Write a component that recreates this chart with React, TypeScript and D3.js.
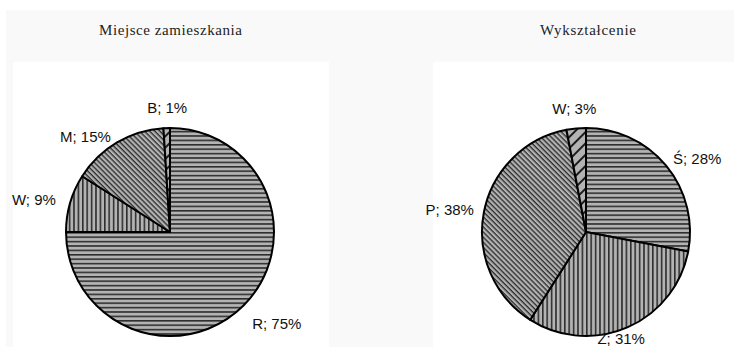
import React from "react";
import * as d3 from "d3";

// Miejsce zamieszkania
const placeNames = ["R", "W", "M", "B"];
const placeValues = [75, 9, 15, 1];
const placeHatch = ["horiz", "vert", "diag", "wide"];

// Wykształcenie
const eduNames = ["Ś", "Z", "P", "W"];
const eduValues = [28, 31, 38, 3];
const eduHatch = ["horiz", "vert", "diag", "wide"];

// hand-tuned label nudges (px), following the slice order above
const placeNudge: [number, number][] = [[9, -6], [-2, 6], [-16, 20], [1, -1]];
const eduNudge: [number, number][] = [[4, 15], [-17, -14], [3, 4], [0, 0]];

const W = 734;
const H = 347;
const R = 104;
const LABEL_FONT = "15px 'Liberation Sans', Arial, sans-serif";
const GRAY = "#b3b3b3";
const INK = "#1c1c1c";

let measureCtx: CanvasRenderingContext2D | null = null;
function textWidth(s: string) {
  if (!measureCtx) {
    measureCtx = document.createElement("canvas").getContext("2d");
  }
  if (!measureCtx) return s.length * 8;
  measureCtx.font = LABEL_FONT;
  return measureCtx.measureText(s).width;
}

function Patterns({ prefix }: { prefix: string }) {
  return (
    <>
      <pattern id={`${prefix}-horiz`} patternUnits="userSpaceOnUse" width={8} height={4.4}>
        <rect width={8} height={4.4} fill={GRAY} />
        <line x1={0} x2={8} y1={0.8} y2={0.8} stroke={INK} strokeWidth={1.4} />
      </pattern>
      <pattern id={`${prefix}-vert`} patternUnits="userSpaceOnUse" width={4.4} height={8}>
        <rect width={4.4} height={8} fill={GRAY} />
        <line y1={0} y2={8} x1={0.8} x2={0.8} stroke={INK} strokeWidth={1.4} />
      </pattern>
      <pattern id={`${prefix}-diag`} patternUnits="userSpaceOnUse" width={8} height={3.6} patternTransform="rotate(45)">
        <rect width={8} height={3.6} fill={GRAY} />
        <line x1={0} x2={8} y1={0.7} y2={0.7} stroke={INK} strokeWidth={1.2} />
      </pattern>
      <pattern id={`${prefix}-wide`} patternUnits="userSpaceOnUse" width={8} height={8} patternTransform="rotate(-45)">
        <rect width={8} height={8} fill={GRAY} />
        <line x1={0} x2={8} y1={1} y2={1} stroke={INK} strokeWidth={2} />
      </pattern>
    </>
  );
}

type PieProps = {
  cx: number;
  cy: number;
  names: string[];
  values: number[];
  hatch: string[];
  nudge: [number, number][];
  prefix: string;
};

function HatchedPie({ cx, cy, names, values, hatch, nudge, prefix }: PieProps) {
  const idx = d3.range(values.length);
  const pie = d3
    .pie<number>()
    .sort(null)
    .value((i) => values[i])
    .startAngle(0)
    .endAngle(2 * Math.PI);
  const arcs = pie(idx);
  const arc = d3.arc<d3.PieArcDatum<number>>().innerRadius(0).outerRadius(R);
  const total = d3.sum(values);
  const pct = d3.format(".0%");

  return (
    <g transform={`translate(${cx},${cy})`}>
      {arcs.map((a) => (
        <path
          key={names[a.data]}
          d={arc(a) || ""}
          fill={`url(#${prefix}-${hatch[a.data]})`}
          stroke="#000"
          strokeWidth={2}
          strokeLinejoin="round"
        />
      ))}
      {arcs.map((a) => {
        const i = a.data;
        const text = `${names[i]}; ${pct(values[i] / total)}`;
        const mid = (a.startAngle + a.endAngle) / 2;
        const sx = Math.sin(mid);
        const cyDir = -Math.cos(mid);
        const w = textWidth(text);
        const h = 11;
        const dist = R + 13 + Math.abs(sx) * (w / 2) + Math.abs(cyDir) * (h / 2);
        const x = sx * dist + nudge[i][0];
        const y = cyDir * dist + nudge[i][1];
        return (
          <text
            key={`l-${names[i]}`}
            x={x}
            y={y + h / 2}
            textAnchor="middle"
            style={{ font: LABEL_FONT }}
            fill="#111"
          >
            {text}
          </text>
        );
      })}
    </g>
  );
}

export default function App() {
  return (
    <svg
      width={W}
      height={H}
      style={{ position: "absolute", left: 0, top: 0, background: "#fff" }}
    >
      <defs>
        <Patterns prefix="pl" />
        <Patterns prefix="ed" />
      </defs>
      <rect x={6} y={10} width={W - 6} height={H - 10} fill="#f9f9f9" />
      <rect x={13} y={62} width={316} height={H - 62} fill="#fff" />
      <rect x={433} y={62} width={W - 433} height={H - 62} fill="#fff" />

      <text
        x={170.5}
        y={35}
        textAnchor="middle"
        textLength={143}
        lengthAdjust="spacing"
        style={{ font: "15px 'Liberation Serif', 'Times New Roman', serif" }}
        fill="#222"
      >
        Miejsce zamieszkania
      </text>
      <text
        x={588}
        y={35}
        textAnchor="middle"
        textLength={96}
        lengthAdjust="spacing"
        style={{ font: "15px 'Liberation Serif', 'Times New Roman', serif" }}
        fill="#222"
      >
        Wykształcenie
      </text>

      <HatchedPie
        cx={170}
        cy={232}
        names={placeNames}
        values={placeValues}
        hatch={placeHatch}
        nudge={placeNudge}
        prefix="pl"
      />
      <HatchedPie
        cx={586}
        cy={232}
        names={eduNames}
        values={eduValues}
        hatch={eduHatch}
        nudge={eduNudge}
        prefix="ed"
      />
    </svg>
  );
}
